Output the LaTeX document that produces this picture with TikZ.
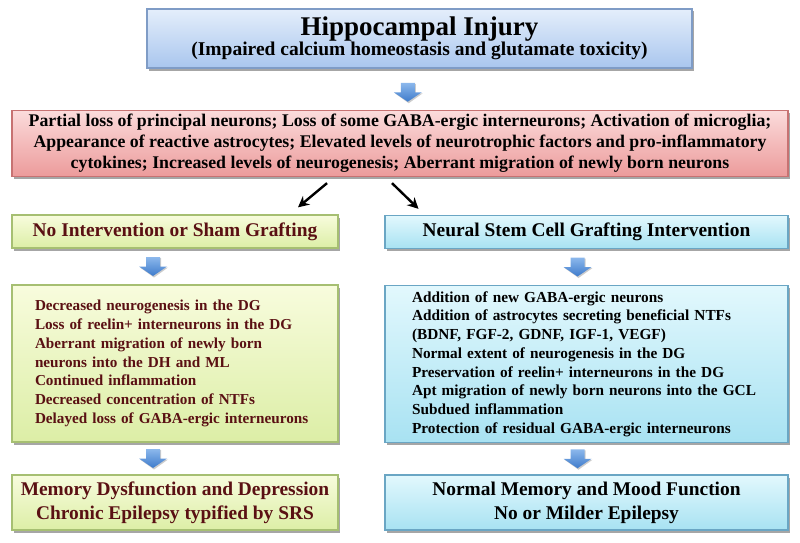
\documentclass[tikz,border=0pt]{standalone}
\usepackage{fontspec}
\setmainfont{Liberation Serif}
\usetikzlibrary{shadows,arrows.meta,calc}
\definecolor{injtop}{HTML}{E4EEFB}
\definecolor{injbot}{HTML}{A9C6EE}
\definecolor{injdraw}{HTML}{7F9CC6}
\definecolor{redtop}{HTML}{FBDCDC}
\definecolor{redbot}{HTML}{EC9A9A}
\definecolor{reddraw}{HTML}{C77272}
\definecolor{grntop}{HTML}{F8FCDD}
\definecolor{grnbot}{HTML}{DCEEA6}
\definecolor{grndraw}{HTML}{A6BF72}
\definecolor{blutop}{HTML}{E2F8FD}
\definecolor{blubot}{HTML}{A8E2F2}
\definecolor{bludraw}{HTML}{6AA6C4}
\definecolor{arrtop}{HTML}{8CB8EC}
\definecolor{arrbot}{HTML}{3E7BCB}
\definecolor{darkred}{HTML}{5A1013}
\begin{document}
\begin{tikzpicture}[x=1pt,y=-1pt,
  box/.style={rectangle,draw,line width=1.3pt,inner sep=0pt,font=\bfseries,
    drop shadow={shadow xshift=1.5pt,shadow yshift=-2.5pt,fill=black,opacity=0.35}},
  injbox/.style={box,top color=injtop,bottom color=injbot,draw=injdraw},
  redbox/.style={box,top color=redtop,bottom color=redbot,draw=reddraw},
  grnbox/.style={box,top color=grntop,bottom color=grnbot,draw=grndraw,text=darkred},
  blubox/.style={box,top color=blutop,bottom color=blubot,draw=bludraw,text=black},
  barrow/.pic={
    \fill[black,opacity=0.2] (-6.5,-8.5) -- (8,-8.5) -- (8,1) -- (15,1) -- (1,11) -- (-13,1) -- (-6.5,1) -- cycle;
    \shade[top color=arrtop,bottom color=arrbot] (-7,-9.5) -- (7,-9.5) -- (7,0) -- (14,0) -- (0,9.5) -- (-14,0) -- (-7,0) -- cycle;
  },
  blk/.style={line width=2.4pt,-{Stealth[length=11pt,width=11pt]}}
]
\useasboundingbox[fill=white] (0,0) rectangle (800,543);

\node[injbox,minimum width=545pt,minimum height=59pt,align=center] (inj) at (419.5,38.5)
  {{\fontsize{27}{25}\selectfont Hippocampal Injury}\\{\fontsize{19.5}{21}\selectfont (Impaired calcium homeostasis and glutamate toxicity)}};

\node[redbox,minimum width=776pt,minimum height=66pt,align=center,font=\bfseries\fontsize{17.8}{21}\selectfont] (red) at (400,143.5)
  {Partial loss of principal neurons; Loss of some GABA-ergic interneurons; Activation of microglia;\\
   Appearance of reactive astrocytes; Elevated levels of neurotrophic factors and pro-inflammatory\\
   cytokines; Increased levels of neurogenesis; Aberrant migration of newly born neurons};

\node[grnbox,minimum width=326pt,minimum height=33pt,font=\bfseries\fontsize{19.4}{20}\selectfont] (g1) at (175,231.5)
  {No Intervention or Sham Grafting};
\node[blubox,minimum width=403pt,minimum height=33pt,font=\bfseries\fontsize{19.4}{20}\selectfont] (b1) at (586.5,232)
  {Neural Stem Cell Grafting Intervention};

\node[grnbox,minimum width=326pt,minimum height=157pt,text width=280pt,align=left,font=\bfseries\fontsize{15.2}{18.7}\selectfont] (g2) at (175+0,363.5)
  {Decreased neurogenesis in the DG\\
   Loss of reelin+ interneurons in the DG\\
   Aberrant migration of newly born\\
   neurons into the DH and ML\\
   Continued inflammation\\
   Decreased concentration of NTFs\\
   Delayed loss of GABA-ergic interneurons};
\node[blubox,minimum width=403pt,minimum height=157pt,text width=349pt,align=left,font=\bfseries\fontsize{15.3}{18.7}\selectfont] (b2) at (586.5,364)
  {Addition of new GABA-ergic neurons\\
   Addition of astrocytes secreting beneficial NTFs\\
   (BDNF, FGF-2, GDNF, IGF-1, VEGF)\\
   Normal extent of neurogenesis in the DG\\
   Preservation of reelin+ interneurons in the DG\\
   Apt migration of newly born neurons into the GCL\\
   Subdued inflammation\\
   Protection of residual GABA-ergic interneurons};

\node[grnbox,minimum width=326pt,minimum height=55pt,align=center,font=\bfseries\fontsize{19.4}{24}\selectfont] (g3) at (175,502.5)
  {Memory Dysfunction and Depression\\Chronic Epilepsy typified by SRS};
\node[blubox,minimum width=403pt,minimum height=55pt,align=center,font=\bfseries\fontsize{19.4}{24}\selectfont] (b3) at (586.5,502.5)
  {Normal Memory and Mood Function\\No or Milder Epilepsy};

\coordinate (a1) at ($(inj.south)!.5!(red.north)+(-2,3)$);
\coordinate (a2) at ($(g1.south)!.5!(g2.north)+(-22,0)$);
\coordinate (a3) at ($(b1.south)!.5!(b2.north)+(-9,0)$);
\coordinate (a4) at ($(g2.south)!.5!(g3.north)+(-22,0)$);
\coordinate (a5) at ($(b2.south)!.5!(b3.north)+(-9,0)$);
\foreach \c in {a1,a2,a3,a4,a5} \pic at (\c) {barrow};

\draw[blk] ([xshift=-73pt,yshift=-6pt]red.south) -- ([xshift=123pt,yshift=7pt]g1.north);
\draw[blk] ([xshift=-8pt,yshift=-6pt]red.south) -- ([xshift=-168pt,yshift=6pt]b1.north);
\end{tikzpicture}
\end{document}
